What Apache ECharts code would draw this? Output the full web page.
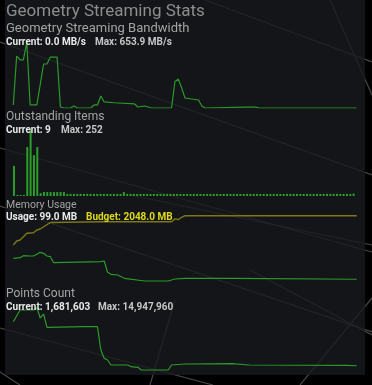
<!DOCTYPE html>
<html><head><meta charset="utf-8">
<script src="https://cdn.jsdelivr.net/npm/echarts@6/dist/echarts.min.js"></script>
<style>html,body{margin:0;padding:0;background:#000}#c{width:372px;height:385px}</style>
</head><body><div id="c"></div>
<script>
// ---- data ----
// Geometry streaming bandwidth (MB/s) sampled at frame index
var bwT = [0,1,2,3,4,5,7,9,10,11,13,14,15,17,18,19,23,24,25,26,27,30,36,37,39,41,47,48,49,50,51,53,55,56,57,69,72,73,102];
var bwV = [30,515,476,476,653.9,30,30,436,436,505,505,10,0,0,20,0,0,30,30,119,60,52,40,10,20,0,0,260,287,200,99,89,79,20,0,8,8,0,0];
// Outstanding items per frame
var outI = [115,4,4,4,187,252,156,187,11,15,15,15,15,15,15,15,
  8,8,8,8,8,8,8,8,8,8,8,8,8,8,8,8,8,
  15,
  8,8,8,8,8,8,8,8,8,8,8,8,8,8,8,8,8,
  8,8,8,8,8,8,8,8,8,8,8,8,8,8,8,8,8,
  8,8,8,8,8,8,8,8,8,8,8,8,8,8,8,8,8,
  8,8,8,8,8,8,8,8,8,8,8,8,8,8,8,8,8,
  9];
// Memory (MB)
var poolT = [0,1,2,3,4,6,7,8,9,11,26,47,48,49,50,51,102];
var poolV = [1149,1272,1303,1404,1508,1526,1609,1640,1710,1840,1864,1864,1950,1930,2000,2048,2048];
var usageT = [0,2,3,5,6,7,8,9,10,11,12,26,27,28,29,31,33,39,46,48,51,65,102];
var usageV = [742,760,821,812,812,864,925,895,812,791,607,638,659,313,251,230,129,46,46,107,129,129,99];
// Points count
var ptsT = [0,2,6,7,8,9,10,21,25,26,27,28,29,34,35,37,38,46,47,51,65,70,99,102];
var ptsV = [11750000,14420000,14420000,14947960,12600000,13500000,10470000,10600000,10600000,5280000,3380000,2990000,1850000,1850000,1460000,1330000,710000,710000,1850000,2080000,2150000,1850000,1780000,1681603];
// texts
var titleText = 'Geometry Streaming Stats';
var sections = ['Geometry Streaming Bandwidth','Outstanding Items','Memory Usage','Points Count'];
var statsCur = ['Current: 0.0 MB/s','Current: 9','Usage: 99.0 MB','Current: 1,681,603'];
var statsMax = ['Max: 653.9 MB/s','Max: 252','Budget: 2048.0 MB','Max: 14,947,960'];
var bwMax = 653.9, outMax = 252, memMax = 2048, ptsMax = 14947960;

function pairs(t, v){ return t.map(function(x,i){return [x, v[i]];}); }
var cats = outI.map(function(_,i){return i;});

var chart = echarts.init(document.getElementById('c'), null, {renderer:'canvas'});
var F = 'Roboto';
var bgLines = [
  [205,0,372,62],[0,42,372,175],[0,148,372,252],[130,195,372,245],
  [0,206,372,332],[0,328,213,385],[250,270,372,335],
  [372,298,300,385],[372,95,330,0],[150,385,175,300],[0,372,20,385]
];
var graphics = bgLines.map(function(l){
  return {type:'line', z:-10, shape:{x1:l[0],y1:l[1],x2:l[2],y2:l[3]}, style:{stroke:'#474747', lineWidth:1.2}};
});
graphics.push({type:'rect', z:-5, shape:{x:5,y:0,width:360,height:375}, style:{fill:'rgba(25,26,30,0.8)'}});
function txt(s, x, y, size, color, weight){
  graphics.push({type:'text', z:10, x:x, y:y, style:{text:s, fill:color, font:(weight||'normal')+' '+size+'px '+F, textVerticalAlign:'top'}});
}
txt(titleText, 6, 3, 17, '#8d8d8d');
var secY = [22, 111, 200, 288];
var secSize = [13, 12, 10.5, 12];
var statY = [37, 125, 212, 302];
var maxX = [95, 61, 86, 98];
for (var i=0;i<4;i++){
  txt(sections[i], 6, secY[i], secSize[i], '#a4a4a4');
  txt(statsCur[i], 6, statY[i], 10, '#e8e8e8', 'bold');
  txt(statsMax[i], maxX[i], statY[i], 10, i===2?'#dcd81e':'#c6c6c6', 'bold');
}

var green = '#2a9a2a';
var option = {
  backgroundColor:'#000',
  animation:false,
  graphic: graphics,
  grid:[
    {left:13.3, width:343.4, top:42, height:66},
    {left:12.3, width:343, top:130, height:66},
    {left:13.3, width:343.4, top:215.7, height:66.8},
    {left:13.3, width:343.4, top:307.7, height:65.4}
  ],
  xAxis:[
    {gridIndex:0, type:'value', min:0, max:102, show:false},
    {gridIndex:1, type:'category', data:cats, show:false},
    {gridIndex:2, type:'value', min:0, max:102, show:false},
    {gridIndex:3, type:'value', min:0, max:102, show:false}
  ],
  yAxis:[
    {gridIndex:0, type:'value', min:0, max:bwMax, show:false},
    {gridIndex:1, type:'value', min:0, max:outMax, show:false},
    {gridIndex:2, type:'value', min:0, max:memMax, show:false},
    {gridIndex:3, type:'value', min:0, max:ptsMax, show:false}
  ],
  series:[
    {type:'line', xAxisIndex:0, yAxisIndex:0, data:pairs(bwT,bwV), symbol:'none', lineStyle:{color:green, width:1.2}},
    {type:'bar', xAxisIndex:1, yAxisIndex:1, data:outI, barWidth:2, itemStyle:{color:'#2a9f2a'}},
    {type:'line', xAxisIndex:2, yAxisIndex:2, data:pairs(poolT,poolV), symbol:'none', lineStyle:{color:'#7c7818', width:1.4}},
    {type:'line', xAxisIndex:2, yAxisIndex:2, data:pairs(usageT,usageV), symbol:'none', lineStyle:{color:green, width:1.2}},
    {type:'line', xAxisIndex:3, yAxisIndex:3, data:pairs(ptsT,ptsV), symbol:'none', lineStyle:{color:green, width:1.2}}
  ]
};
chart.setOption(option);
</script></body></html>
